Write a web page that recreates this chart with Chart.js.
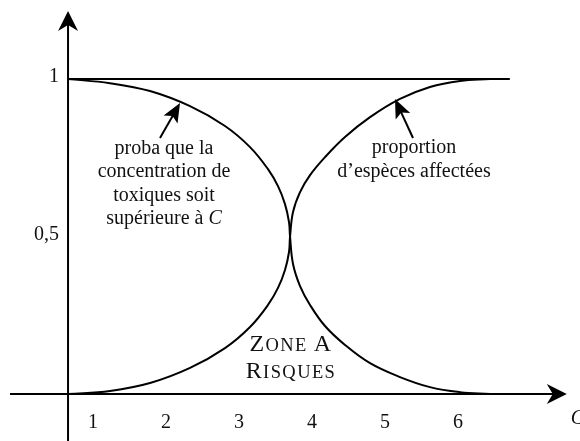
<!DOCTYPE html>
<html><head><meta charset="utf-8">
<script src="https://cdn.jsdelivr.net/npm/chart.js@4"></script>
<style>html,body{margin:0;padding:0;background:#fff}#wrap{width:580px;height:441px;position:relative}</style>
</head><body><div id="wrap"><canvas id="c"></canvas></div>
<script>
// ---- data ----
const xTickValues = [1, 2, 3, 4, 5, 6];
const xTickLabels = ["1", "2", "3", "4", "5", "6"];
const yTickValues = [1, 0.5];
const yTickLabels = ["1", "0,5"];

// C values at which the curves were read
const curveX = [0.658, 1.233, 1.781, 2.329, 2.808, 3.151, 3.397, 3.534, 3.630, 3.685, 3.699, 3.740, 3.836, 3.973, 4.178, 4.452, 4.795, 5.205, 5.616, 6.027, 6.438];

// proportion d'espèces affectées (rising curve)
const risingY = [0, 0.010, 0.035, 0.083, 0.146, 0.213, 0.283, 0.337, 0.394, 0.451, 0.5, 0.578, 0.641, 0.695, 0.752, 0.816, 0.879, 0.937, 0.975, 0.994, 1.0];

// proba que la concentration soit supérieure à C (falling curve)
const fallingY = [1.0, 0.987, 0.962, 0.914, 0.851, 0.784, 0.714, 0.660, 0.603, 0.546, 0.5, 0.413, 0.343, 0.283, 0.216, 0.156, 0.098, 0.054, 0.022, 0.006, 0];

// horizontal line at 1
const plateauX = [0.658, 6.71];
const plateauY = [1, 1];

// where the axes sit / extend (data units)
const axisOriginX = 0.658;
const xAxisFrom = -0.137, xAxisTo = 7.49;
const yAxisFrom = -0.16, yAxisTo = 1.216;

const toPts = (xs, ys) => xs.map((x, i) => ({x: x, y: ys[i]}));
const SERIF = '"Liberation Serif", "DejaVu Serif", serif';

function arrowHead(ctx, tx, ty, ang, len, hw, notch) {
  const c = Math.cos(ang), s = Math.sin(ang);
  const bx = tx - c * len, by = ty - s * len;
  ctx.beginPath();
  ctx.moveTo(tx, ty);
  ctx.lineTo(bx - s * hw, by + c * hw);
  ctx.lineTo(tx - c * (len - notch), ty - s * (len - notch));
  ctx.lineTo(bx + s * hw, by - c * hw);
  ctx.closePath();
  ctx.fill();
}
function annotArrow(ctx, x0, y0, x1, y1) {
  const ang = Math.atan2(y1 - y0, x1 - x0);
  ctx.lineWidth = 2;
  ctx.beginPath();
  ctx.moveTo(x0, y0);
  ctx.lineTo(x1 - Math.cos(ang) * 10, y1 - Math.sin(ang) * 10);
  ctx.stroke();
  arrowHead(ctx, x1, y1, ang, 19, 8, 4);
}
function smallCaps(ctx, parts, cx, baseline, spacing) {
  ctx.letterSpacing = spacing + 'px';
  let w = 0;
  parts.forEach(p => { ctx.font = p[1] + 'px ' + SERIF; w += ctx.measureText(p[0]).width; });
  let x = cx - w / 2;
  ctx.textAlign = 'left';
  parts.forEach(p => { ctx.font = p[1] + 'px ' + SERIF; ctx.fillText(p[0], x, baseline); x += ctx.measureText(p[0]).width; });
  ctx.letterSpacing = '0px';
}

const axesPlugin = {
  id: 'axesPlugin',
  beforeDatasetsDraw(chart) {
    const ctx = chart.ctx, xs = chart.scales.x, ys = chart.scales.y;
    const ox = xs.getPixelForValue(axisOriginX), oy = ys.getPixelForValue(0);
    ctx.save();
    ctx.strokeStyle = '#000'; ctx.fillStyle = '#000'; ctx.lineWidth = 2;
    ctx.beginPath();
    ctx.moveTo(xs.getPixelForValue(xAxisFrom), oy);
    ctx.lineTo(xs.getPixelForValue(xAxisTo) - 8, oy);
    ctx.moveTo(ox, ys.getPixelForValue(yAxisFrom));
    ctx.lineTo(ox, ys.getPixelForValue(yAxisTo) + 8);
    ctx.stroke();
    arrowHead(ctx, xs.getPixelForValue(xAxisTo), oy, 0, 20, 10, 6);
    arrowHead(ctx, ox, ys.getPixelForValue(yAxisTo), -Math.PI / 2, 20, 10, 6);
    ctx.restore();
  },
  afterDraw(chart) {
    const ctx = chart.ctx, xs = chart.scales.x, ys = chart.scales.y;
    const ox = xs.getPixelForValue(axisOriginX), oy = ys.getPixelForValue(0);
    ctx.save();
    ctx.fillStyle = '#111'; ctx.strokeStyle = '#000';
    ctx.textBaseline = 'alphabetic';
    ctx.font = '20px ' + SERIF;
    ctx.textAlign = 'center';
    xTickValues.forEach((v, i) => ctx.fillText(xTickLabels[i], xs.getPixelForValue(v), oy + 34));
    ctx.textAlign = 'right';
    yTickValues.forEach((v, i) => ctx.fillText(yTickLabels[i], ox - 9, ys.getPixelForValue(v) + 3));
    // axis name
    ctx.textAlign = 'left';
    ctx.font = 'italic 20px ' + SERIF;
    ctx.fillText('C', xs.getPixelForValue(xAxisTo) + 4, oy + 30);

    // left annotation
    const F = '20px ' + SERIF, FI = 'italic 20px ' + SERIF;
    ctx.font = F;
    ctx.textAlign = 'center';
    ctx.textBaseline = 'middle';
    const lx = 164;
    ctx.fillText('proba que la', lx, 149);
    ctx.fillText('concentration de', lx, 172);
    ctx.fillText('toxiques soit', lx, 196);
    const t1 = 'supérieure à ';
    ctx.font = F; const w1 = ctx.measureText(t1).width;
    ctx.font = FI; const w2 = ctx.measureText('C').width;
    ctx.textAlign = 'left';
    ctx.font = F; ctx.fillText(t1, lx - (w1 + w2) / 2, 219);
    ctx.font = FI; ctx.fillText('C', lx - (w1 + w2) / 2 + w1, 219);

    // right annotation
    ctx.font = F;
    ctx.textAlign = 'center';
    ctx.fillText('proportion', 414, 148);
    ctx.fillText('d\u2019espèces affectées', 414, 172);

    // arrows
    ctx.fillStyle = '#000';
    annotArrow(ctx, 160, 138, 180, 103);
    annotArrow(ctx, 413, 138, 395, 99);

    // zone à risques (small caps)
    ctx.fillStyle = '#111';
    ctx.textBaseline = 'alphabetic';
    smallCaps(ctx, [['Z', 24], ['ONE', 18.5], [' ', 18.5], ['A', 24]], 291, 351, 1.4);
    smallCaps(ctx, [['R', 24], ['ISQUES', 18.5]], 291, 378, 1.4);
    ctx.restore();
  }
};

const lineStyle = {borderColor: '#000', borderWidth: 2, pointRadius: 0, fill: false, tension: 0.4};

new Chart(document.getElementById('c'), {
  type: 'line',
  data: {
    datasets: [
      Object.assign({label: 'plateau', data: toPts(plateauX, plateauY)}, lineStyle, {tension: 0}),
      Object.assign({label: 'proba', data: toPts(curveX, fallingY)}, lineStyle),
      Object.assign({label: 'proportion', data: toPts(curveX, risingY)}, lineStyle)
    ]
  },
  options: {
    responsive: true,
    maintainAspectRatio: false,
    animation: false,
    layout: {padding: 0},
    plugins: {legend: {display: false}, tooltip: {enabled: false}},
    scales: {
      x: {type: 'linear', min: -0.274, max: 7.671, display: false},
      y: {type: 'linear', min: -0.149, max: 1.251, display: false}
    }
  },
  plugins: [axesPlugin]
});
</script>
</body></html>
